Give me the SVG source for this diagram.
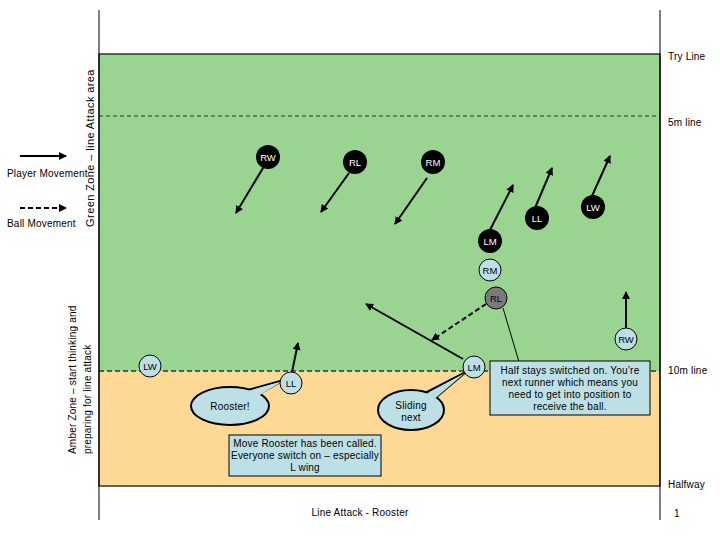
<svg xmlns="http://www.w3.org/2000/svg" width="720" height="540" viewBox="0 0 720 540">
<defs>
<marker id="ah" markerWidth="8" markerHeight="8" refX="7" refY="4" orient="auto" markerUnits="userSpaceOnUse"><path d="M0,0 L8,4 L0,8 z" fill="#000"/></marker>
<style>
text{font-family:"Liberation Sans",Arial,sans-serif;font-size:10px;letter-spacing:0.2px;fill:#000}
.bn{fill:#000}
.bt{fill:#fff;font-size:9.5px;letter-spacing:0;text-anchor:middle}
.ln{fill:#bde0e6;stroke:#000;stroke-width:1}
.lt{text-anchor:middle;font-size:9.5px;letter-spacing:0}
.mv{stroke:#000;stroke-width:2;fill:none;marker-end:url(#ah)}
.bl{stroke:#000;stroke-width:2;fill:none;stroke-dasharray:5,3;marker-end:url(#ah)}
.co{fill:#bde0e6;stroke:#000;stroke-width:2}
.bx{fill:#bde0e6;stroke:#000;stroke-width:1}
.c{text-anchor:middle}
</style>
</defs>
<rect width="720" height="540" fill="#fff"/>
<g id="field">
<rect x="99" y="54" width="561" height="317" fill="#99d591"/>
<rect x="99" y="371" width="561" height="115" fill="#fdd995"/>
<rect x="99" y="54" width="561" height="432" fill="none" stroke="#333" stroke-width="1.5"/>
<line x1="99" y1="116" x2="660" y2="116" stroke="#333" stroke-dasharray="4,3"/>
<line x1="99" y1="371" x2="660" y2="371" stroke="#333" stroke-width="1.5" stroke-dasharray="5,3"/>
<line x1="99" y1="10" x2="99" y2="520" stroke="#000"/>
<line x1="660" y1="10" x2="660" y2="520" stroke="#000"/>
</g>
<g id="labels">
<text x="668" y="60">Try Line</text>
<text x="668" y="126">5m line</text>
<text x="668" y="374">10m line</text>
<text x="668" y="488">Halfway</text>
<text x="674" y="517">1</text>
<text x="360" y="516" class="c">Line Attack -  Rooster</text>
<text transform="translate(94,148) rotate(-90)" class="c" style="font-size:11px;letter-spacing:0.4px">Green Zone – line Attack area</text>
<text transform="translate(76,454) rotate(-90)">Amber Zone – start thinking and</text>
<text transform="translate(91,454) rotate(-90)">preparing for line attack</text>
</g>
<g id="legend">
<line x1="20" y1="156" x2="66" y2="156" class="mv"/>
<text x="7" y="177">Player Movement</text>
<line x1="20" y1="208" x2="66" y2="208" class="bl"/>
<text x="7" y="227">Ball Movement</text>
</g>
<g id="connectors">
<line x1="263" y1="168" x2="236" y2="213" class="mv"/>
<line x1="349" y1="173" x2="321" y2="212" class="mv"/>
<line x1="427" y1="178" x2="395" y2="224" class="mv"/>
<line x1="490" y1="230" x2="513" y2="185" class="mv"/>
<line x1="535" y1="208" x2="552" y2="168" class="mv"/>
<line x1="592" y1="196" x2="610" y2="156" class="mv"/>
<line x1="292" y1="372" x2="298" y2="343" class="mv"/>
<line x1="626" y1="328" x2="626" y2="292" class="mv"/>
<line x1="463" y1="359" x2="366" y2="304" class="mv"/>
<line x1="486" y1="304" x2="432" y2="340" class="bl"/>
<line x1="503" y1="308" x2="519" y2="362" stroke="#000" stroke-width="1"/>
</g>
<g id="n-RW-black"><circle cx="268" cy="157" r="12" class="bn"/><text x="268" y="161" class="bt">RW</text></g>
<g id="n-RL-black"><circle cx="355" cy="162" r="12" class="bn"/><text x="355" y="166" class="bt">RL</text></g>
<g id="n-RM-black"><circle cx="433" cy="162" r="12" class="bn"/><text x="433" y="166" class="bt">RM</text></g>
<g id="n-LM-black"><circle cx="490" cy="241" r="12" class="bn"/><text x="490" y="245" class="bt">LM</text></g>
<g id="n-LL-black"><circle cx="537" cy="218" r="12" class="bn"/><text x="537" y="222" class="bt">LL</text></g>
<g id="n-LW-black"><circle cx="593" cy="207" r="12" class="bn"/><text x="593" y="211" class="bt">LW</text></g>
<g id="n-RM"><circle cx="490" cy="270" r="11" class="ln"/><text x="490" y="274" class="lt">RM</text></g>
<g id="n-RL"><circle cx="496" cy="298" r="11" fill="#7a7a7a" stroke="#000"/><text x="496" y="302" class="lt">RL</text></g>
<g id="n-RW"><circle cx="626" cy="339" r="11" class="ln"/><text x="626" y="343" class="lt">RW</text></g>
<g id="n-LW"><circle cx="150" cy="366" r="11" class="ln"/><text x="150" y="370" class="lt">LW</text></g>
<g id="n-rooster">
<path d="M248,390 L284,380 L254,397 Z" class="co"/>
<ellipse cx="230" cy="406" rx="39" ry="19" class="co"/>
<path d="M248,391 L283,381 L255,398" fill="#bde0e6" stroke="none"/>
<text x="230" y="410" class="c">Rooster!</text>
</g>
<g id="n-LL"><circle cx="291" cy="383" r="11" class="ln"/><text x="291" y="387" class="lt">LL</text></g>
<g id="n-sliding">
<path d="M425,393 L466,372 L433,400 Z" class="co"/>
<ellipse cx="411" cy="410" rx="33" ry="20" class="co"/>
<path d="M426,394 L465,373 L432,401" fill="#bde0e6" stroke="none"/>
<text x="411" y="409" class="c">Sliding</text>
<text x="411" y="421" class="c">next</text>
</g>
<g id="n-LM"><circle cx="474" cy="367" r="11" class="ln"/><text x="474" y="371" class="lt">LM</text></g>
<g id="n-half">
<rect x="490" y="361" width="160" height="54" class="bx"/>
<text x="570" y="374" class="c">Half stays switched on.  You’re</text>
<text x="570" y="386" class="c">next runner which means you</text>
<text x="570" y="398" class="c">need to get into position to</text>
<text x="570" y="410" class="c">receive the ball.</text>
</g>
<g id="n-move">
<rect x="229" y="435" width="152" height="41" class="bx"/>
<text x="305" y="447" class="c">Move Rooster has been called.</text>
<text x="305" y="459" class="c">Everyone switch on – especially</text>
<text x="305" y="471" class="c">L wing</text>
</g>
</svg>
